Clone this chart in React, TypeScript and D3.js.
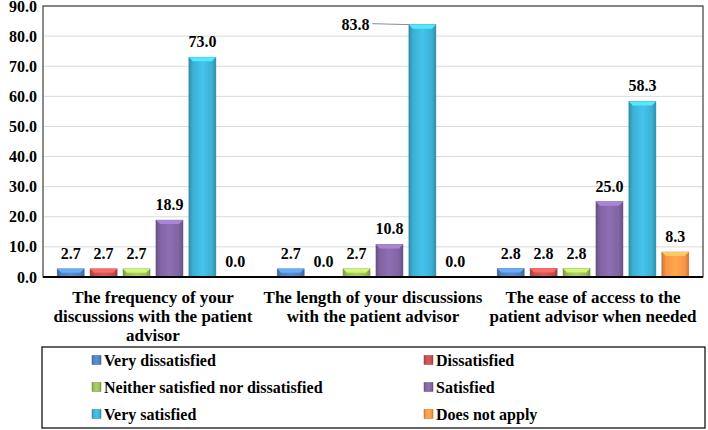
import React from "react";
import * as d3 from "d3";

const categories: string[][] = [
  ["The frequency of your", "discussions with the patient", "advisor"],
  ["The length of your discussions", "with the patient advisor"],
  ["The ease of access to the", "patient advisor when needed"],
];
const seriesNames = [
  "Very dissatisfied",
  "Dissatisfied",
  "Neither satisfied nor dissatisfied",
  "Satisfied",
  "Very satisfied",
  "Does not apply",
];
const seriesColors = ["#4F81BD", "#C0504D", "#9BBB59", "#8064A2", "#3CB0D4", "#F79646"];
const values: number[][] = [
  [2.7, 2.7, 2.7, 18.9, 73.0, 0.0],
  [2.7, 0.0, 2.7, 10.8, 83.8, 0.0],
  [2.8, 2.8, 2.8, 25.0, 58.3, 8.3],
];
const yTicks = [0, 10, 20, 30, 40, 50, 60, 70, 80, 90];

const W = 708, H = 430;
const L = 43, R = 703, T = 6, B = 277;

function Txt(props: any) {
  const { children, size, ...rest } = props;
  return (
    <text
      {...rest}
      fontSize={size}
      fontWeight="bold"
      fontFamily="Liberation Serif"
      style={{ fontFamily: '"Liberation Serif"' }}
    >
      {children}
    </text>
  );
}

export default function App() {
  const y = d3.scaleLinear().domain([0, 90]).range([B, T]);
  const x0 = d3.scaleBand<number>().domain(d3.range(categories.length)).range([L, R]);
  const x1 = d3
    .scaleBand<number>()
    .domain(d3.range(seriesNames.length))
    .range([0, x0.bandwidth()])
    .paddingInner(0.18)
    .paddingOuter(0.43);
  const bw = x1.bandwidth();

  const legendRows = [[0, 1], [2, 3], [4, 5]];

  return (
    <svg width={W} height={H} style={{ position: "absolute", left: 0, top: 0, background: "#fff" }}>
      <defs>
        {seriesColors.map((c, i) => {
          const dk = d3.color(c)!.darker(0.6).formatHex();
          const lt = d3.color(c)!.brighter(0.3).formatHex();
          return (
            <linearGradient key={i} id={`g${i}`} x1="0" x2="1" y1="0" y2="0">
              <stop offset="0" stopColor={dk} />
              <stop offset="0.15" stopColor={c} />
              <stop offset="0.5" stopColor={lt} />
              <stop offset="0.85" stopColor={c} />
              <stop offset="1" stopColor={dk} />
            </linearGradient>
          );
        })}
      </defs>
      {yTicks.map((t) => (
        <line key={t} x1={L} x2={R} y1={y(t)} y2={y(t)} stroke="#d9d9d9" strokeWidth={1} />
      ))}
      {yTicks.map((t) => (
        <Txt key={t} x={37} y={y(t) + 5.5} textAnchor="end" size={16}>
          {t.toFixed(1)}
        </Txt>
      ))}
      {values.map((row, ci) =>
        row.map((v, si) => {
          if (v <= 0) return null;
          const bx = x0(ci)! + x1(si)!;
          const by = y(v);
          const h = B - by;
          const ch = Math.min(4, h / 2);
          const lt = d3.color(seriesColors[si])!.brighter(0.8).formatHex();
          return (
            <g key={`${ci}-${si}`}>
              <rect x={bx} y={by} width={bw} height={h} fill={`url(#g${si})`} stroke={d3.color(seriesColors[si])!.darker(0.8).formatHex()} strokeWidth={0.5} />
              <polygon
                points={`${bx},${by} ${bx + bw},${by} ${bx + bw - ch},${by + ch} ${bx + ch},${by + ch}`}
                fill={lt}
              />
            </g>
          );
        })
      )}
      {values.map((row, ci) =>
        row.map((v, si) => {
          const cx = x0(ci)! + x1(si)! + bw / 2;
          const by = y(v);
          if (v > 80) {
            return (
              <g key={`l${ci}-${si}`}>
                <line x1={cx - 50} x2={cx - 13} y1={by - 1} y2={by} stroke="#8c8c8c" strokeWidth={1} />
                <Txt x={cx - 53} y={by + 5} textAnchor="end" size={16}>
                  {v.toFixed(1)}
                </Txt>
              </g>
            );
          }
          return (
            <Txt key={`l${ci}-${si}`} x={cx} y={by - 10} textAnchor="middle" size={16}>
              {v.toFixed(1)}
            </Txt>
          );
        })
      )}
      <rect x={L} y={T} width={R - L} height={B - T} fill="none" stroke="#404040" strokeWidth={1.2} />
      <line x1={L} x2={R} y1={B} y2={B} stroke="#000" strokeWidth={2} />
      {categories.map((lines, ci) =>
        lines.map((ln, li) => (
          <Txt key={`${ci}-${li}`} x={x0(ci)! + x0.bandwidth() / 2} y={303 + li * 19} textAnchor="middle" size={17}>
            {ln}
          </Txt>
        ))
      )}
      <rect x={42} y={347} width={663} height={81} fill="#fff" stroke="#000" strokeWidth={1.2} />
      {legendRows.map((row, ri) =>
        row.map((si, k) => {
          const mx = k === 0 ? 92 : 424;
          const cy = 360 + ri * 27;
          return (
            <g key={si}>
              <rect x={mx} y={cy - 4.5} width={9} height={9} fill={`url(#g${si})`} stroke={d3.color(seriesColors[si])!.darker(0.8).formatHex()} strokeWidth={0.5} />
              <Txt x={mx + 12} y={cy + 6} size={16}>
                {seriesNames[si]}
              </Txt>
            </g>
          );
        })
      )}
    </svg>
  );
}
